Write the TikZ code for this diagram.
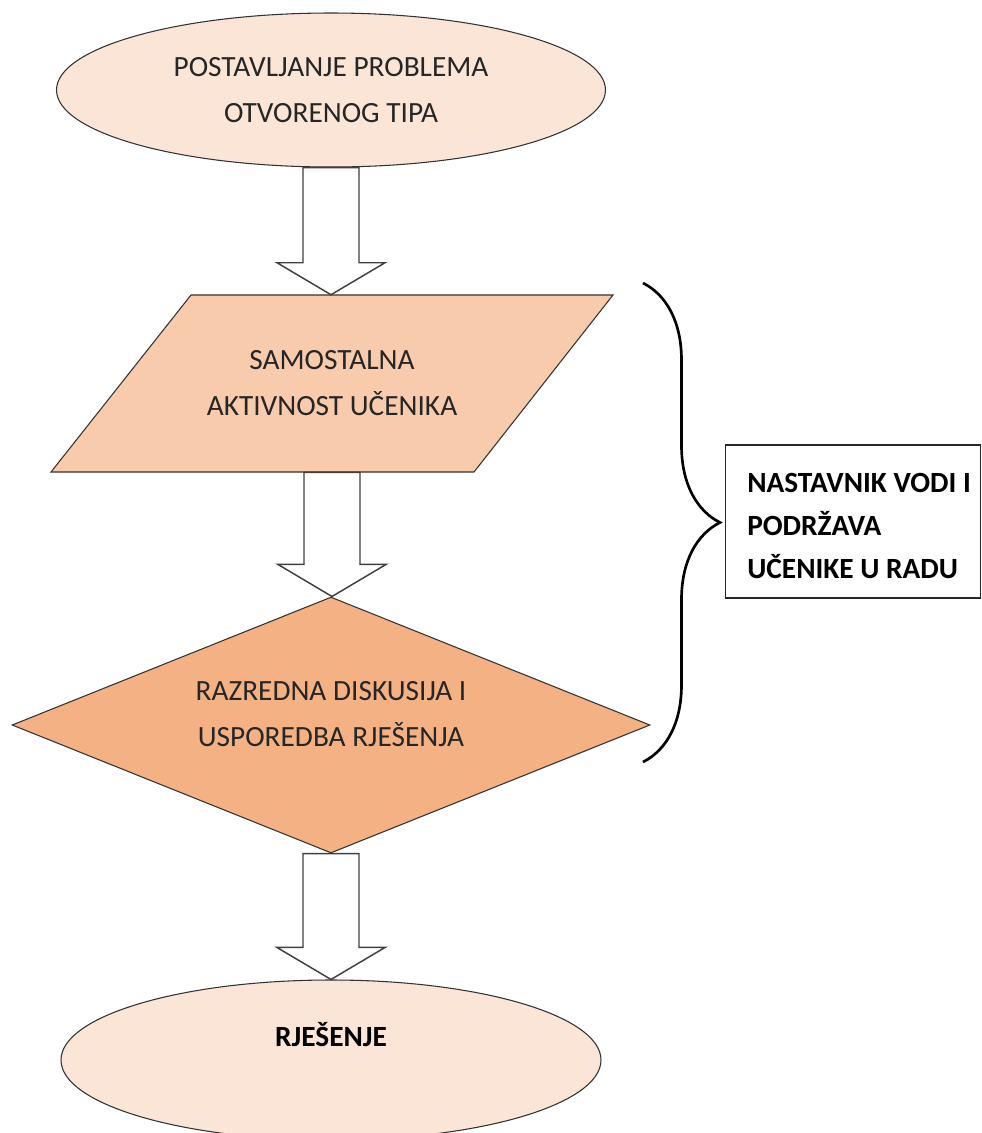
\documentclass[tikz,border=0pt]{standalone}
\usepackage{fontspec}
\setmainfont{Carlito}
\usetikzlibrary{shapes.geometric}
\usetikzlibrary{decorations.pathreplacing}
\usetikzlibrary{calc}

\definecolor{peachlight}{RGB}{251,229,214}
\definecolor{peachmid}{RGB}{248,203,173}
\definecolor{peachdark}{RGB}{244,177,131}
\definecolor{linegray}{RGB}{64,64,64}

\newcommand{\blockarrow}[2]{%
  \draw[blockline] let \p1=(#1), \p2=(#2) in
    (\x1-21pt,\y1) -- (\x1-21pt,\y2-24pt) -- (\x1-40.5pt,\y2-24pt) -- (\x1,\y2)
    -- (\x1+40.5pt,\y2-24pt) -- (\x1+21pt,\y2-24pt) -- (\x1+21pt,\y1) -- cycle;}

\begin{document}
\begin{tikzpicture}[x=0.75pt,y=0.75pt,yscale=-1,
  shapetext/.style={font=\fontsize{22}{34.5}\selectfont, align=center, text=black!85},
  shapeline/.style={draw=black!80, line width=0.8pt},
  startend/.style={shapetext, shapeline, ellipse, fill=peachlight, inner sep=0pt},
  blockline/.style={draw=linegray, line width=1.1pt, fill=white}]
\useasboundingbox (0,0) rectangle (982,1133);

%Shape: Ellipse [start]
\node [startend, minimum width=411.75pt, minimum height=115.5pt] (problem) at (331,90) {POSTAVLJANJE PROBLEMA\\OTVORENOG TIPA};
%Shape: Parallelogram
\draw [shapeline, fill=peachmid] (191,295) -- (613,295) -- (474,472) -- (51,472) -- cycle;
% Text Node
\node [shapetext, inner sep=0pt, minimum height=132.75pt] (work) at (332,383.5) {SAMOSTALNA\\AKTIVNOST UČENIKA};
%Shape: Diamond
\node [shapeline, diamond, fill=peachdark, inner sep=0pt, minimum width=478.5pt, minimum height=192pt] (discuss) at (331,725) {};
% Text Node
\node [shapetext] (discusstext) at (331,714) {RAZREDNA DISKUSIJA I\\USPOREDBA RJEŠENJA};
%Shape: Ellipse [end]
\node [startend, minimum width=405pt, minimum height=120pt] (solution) at (331,1060) {};
% Text Node
\node [shapetext, font=\fontsize{22}{34.5}\selectfont\bfseries, text=black] (soltext) at (331,1035) {RJEŠENJE};

%Block arrows
\blockarrow{problem.south}{work.north}
\blockarrow{work.south}{discuss.north}
\blockarrow{discuss.south}{solution.north}

%Brace
\coordinate (brtop) at (643,283);
\coordinate (brbot) at (643,762);
\draw [line width=2pt, decorate, decoration={brace, amplitude=57.75pt}] (brtop) -- (brbot);
%Shape: Rectangle
\node [draw=black!85, line width=0.8pt, fill=white, anchor=west, minimum width=191.25pt, minimum height=114.75pt] (teacher) at (725,521.5) {};
% Text Node
\node [anchor=west, align=left, inner sep=0pt, font=\fontsize{22}{32}\selectfont\bfseries] (teachertext) at (747,526) {NASTAVNIK VODI I\\PODRŽAVA\\UČENIKE U RADU};

\end{tikzpicture}
\end{document}
